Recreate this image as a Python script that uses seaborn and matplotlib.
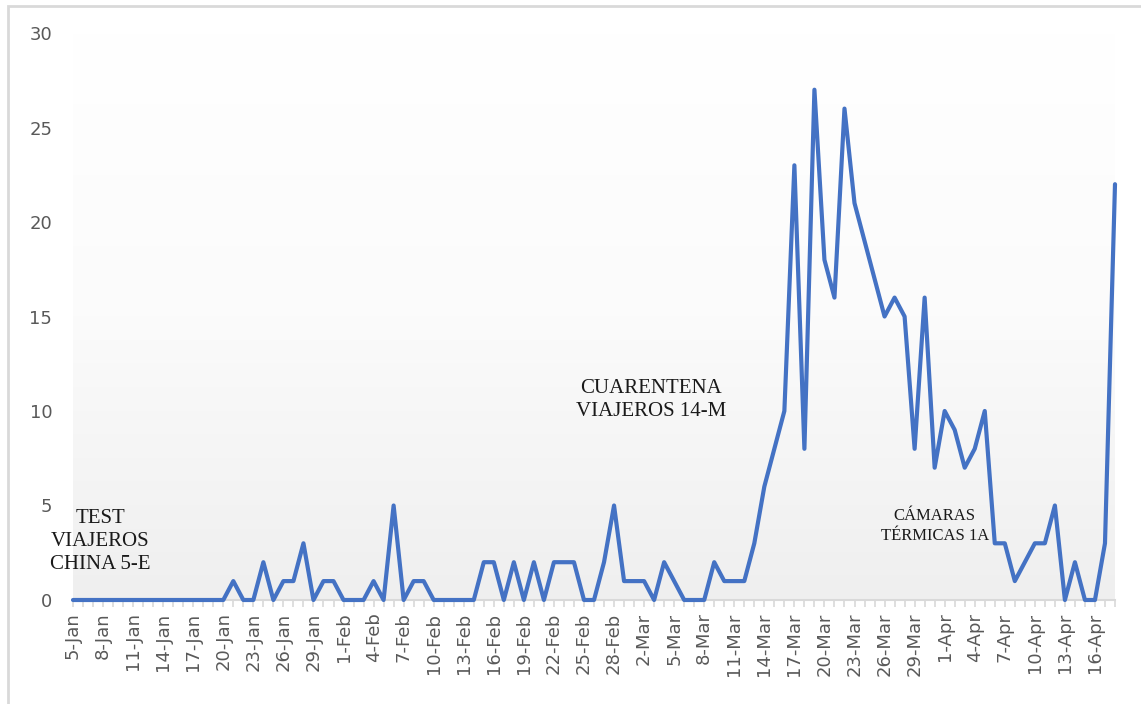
import numpy as np
import pandas as pd
import matplotlib
matplotlib.use("Agg")
import matplotlib.pyplot as plt
import seaborn as sns
from matplotlib.colors import LinearSegmentedColormap
from matplotlib.patches import Rectangle

# Daily values, 5-Jan to 18-Apr
dates = pd.date_range("2020-01-05", "2020-04-18", freq="D")
values = [0, 0, 0, 0, 0, 0, 0, 0, 0, 0, 0, 0, 0, 0, 0,   # 5-Jan .. 19-Jan
          0, 1, 0, 0, 2, 0, 1, 1, 3, 0, 1, 1, 0, 0, 0,   # 20-Jan .. 3-Feb
          1, 0, 5, 0, 1, 1, 0, 0, 0, 0, 0, 2, 2, 0, 2,   # 4-Feb .. 18-Feb
          0, 2, 0, 2, 2, 2, 0, 0, 2, 5, 1, 1, 1, 0, 2,   # 19-Feb .. 4-Mar
          1, 0, 0, 0, 2, 1, 1, 1, 3, 6, 8, 10, 23, 8, 27,  # 5-Mar .. 19-Mar
          18, 16, 26, 21, 19, 17, 15, 16, 15, 8, 16, 7, 10, 9, 7,  # 20-Mar .. 3-Apr
          8, 10, 3, 3, 1, 2, 3, 3, 5, 0, 2, 0, 0, 3, 22]  # 4-Apr .. 18-Apr
tick_labels = [f"{d.day}-{d.strftime('%b')}" for d in dates]

notes = ["TEST\nVIAJEROS\nCHINA 5-E", "CUARENTENA\nVIAJEROS 14-M", "CÁMARAS\nTÉRMICAS 1A"]
note_x = [2.7, 57.7, 86.0]
note_y = [3.1, 10.6, 3.9]
note_size = [15, 15, 12]

df = pd.DataFrame({"day": np.arange(len(dates)), "value": values})

sns.set_theme(style="white")
plt.rcParams["font.family"] = ["DejaVu Sans"]

fig = plt.figure(figsize=(11.41, 7.04), dpi=100)
ax = fig.add_axes([73 / 1141, 1 - 600 / 704, (1115 - 73) / 1141, (600 - 33) / 704])

# soft vertical gradient behind the plot
grad = np.linspace(0, 1, 256).reshape(-1, 1)
cmap = LinearSegmentedColormap.from_list("bg", ["#ffffff", "#fbfbfb", "#efefef"])
ax.imshow(grad, extent=[0, 1, 0, 1], transform=ax.transAxes, aspect="auto",
          cmap=cmap, origin="upper", zorder=0)

sns.lineplot(data=df, x="day", y="value", ax=ax, color="#4472C4",
             linewidth=3.0, clip_on=False, zorder=3)

ax.set_xlim(0, len(dates) - 1)
ax.set_ylim(0, 30)
ax.set_yticks(range(0, 31, 5))
ax.set_xticks(df["day"][::3])
ax.set_xticklabels(tick_labels[::3], rotation=90)
ax.set_xticks(df["day"], minor=True)
ax.set_xlabel("")
ax.set_ylabel("")

for s in ["top", "right", "left"]:
    ax.spines[s].set_visible(False)
ax.spines["bottom"].set_color("#d9d9d9")
ax.spines["bottom"].set_linewidth(1.5)
ax.tick_params(axis="x", which="both", bottom=True, direction="out", length=5,
               color="#d9d9d9", width=1.2)
ax.tick_params(axis="x", which="major", labelsize=13, labelcolor="#595959", pad=4)
ax.tick_params(axis="y", length=0, labelsize=13, labelcolor="#595959", pad=15)
ax.grid(False)

for txt, x, y, fs in zip(notes, note_x, note_y, note_size):
    ax.text(x, y, txt, ha="center", va="center", fontsize=fs,
            family="Liberation Serif", color="#1a1a1a", linespacing=1.3, zorder=4)

# outer chart frame
fig.patches.append(Rectangle((8 / 1141, -0.1), 1.2, 1 - 6 / 704 + 0.1,
                             transform=fig.transFigure, fill=False,
                             edgecolor="#d9d9d9", linewidth=2))

fig.savefig("out.png", dpi=100)
